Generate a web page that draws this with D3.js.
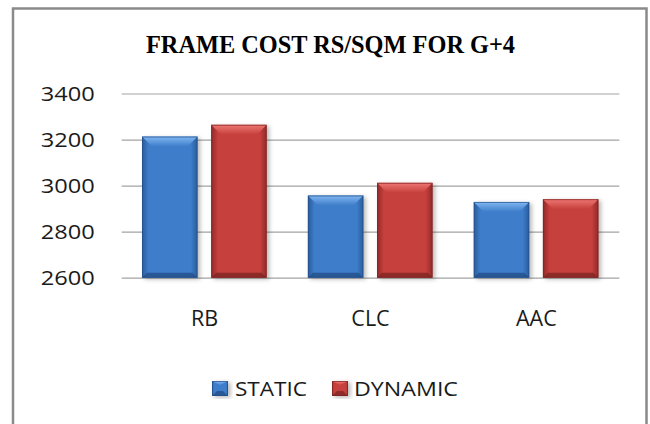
<!DOCTYPE html>
<html>
<head>
<meta charset="utf-8">
<script src="https://cdn.jsdelivr.net/npm/d3@7"></script>
<style>
  html, body { margin: 0; padding: 0; background: #fff; }
  svg { display: block; }
</style>
</head>
<body>
<svg id="chart" width="650" height="424"></svg>
<script>
// Frame cost per square metre for a G+4 building, by masonry type
const categories = ["RB", "CLC", "AAC"];
const seriesNames = ["STATIC", "DYNAMIC"];
const staticCost = [3213, 2957, 2929];
const dynamicCost = [3264, 3012, 2941];
const yTicks = [2600, 2800, 3000, 3200, 3400];
const titleText = "FRAME COST RS/SQM FOR G+4";

const seriesValues = [staticCost, dynamicCost];
const palette = {
  STATIC:  { mid: "#3e7dca", edge: "#2a5b9c", top: "#82b8f2", bottom: "#244f88" },
  DYNAMIC: { mid: "#c63f3c", edge: "#8f2a29", top: "#ee7773", bottom: "#7e2524" }
};
const labelFont = "'Open Sans', 'DejaVu Sans', sans-serif";

const svg = d3.select("#chart");
const defs = svg.append("defs");

// Horizontal shading + bevel gradients per series
seriesNames.forEach(name => {
  const c = palette[name];
  const g = defs.append("linearGradient").attr("id", "body-" + name)
    .attr("x1", "0").attr("x2", "1").attr("y1", "0").attr("y2", "0");
  g.append("stop").attr("offset", "0").attr("stop-color", c.edge);
  g.append("stop").attr("offset", "0.12").attr("stop-color", c.mid);
  g.append("stop").attr("offset", "0.88").attr("stop-color", c.mid);
  g.append("stop").attr("offset", "1").attr("stop-color", c.edge);
  const t = defs.append("linearGradient").attr("id", "top-" + name)
    .attr("x1", "0").attr("x2", "0").attr("y1", "0").attr("y2", "1");
  t.append("stop").attr("offset", "0").attr("stop-color", c.top);
  t.append("stop").attr("offset", "1").attr("stop-color", c.mid);
});
const shadow = defs.append("filter").attr("id", "shadow")
  .attr("x", "-20%").attr("y", "-10%").attr("width", "150%").attr("height", "130%");
shadow.append("feDropShadow").attr("dx", 2.5).attr("dy", 1.5)
  .attr("stdDeviation", 2).attr("flood-color", "#000").attr("flood-opacity", 0.28);

// Outer chart frame
svg.append("rect")
  .attr("x", 13).attr("y", 8.5).attr("width", 633.5).attr("height", 430)
  .attr("fill", "#fff").attr("stroke", "#8a8a8a").attr("stroke-width", 2.5);

// Title
svg.append("text")
  .attr("x", 330.5).attr("y", 53)
  .attr("text-anchor", "middle")
  .attr("font-family", "'Liberation Serif', 'DejaVu Serif', serif")
  .attr("font-weight", "bold")
  .attr("font-size", 25)
  .attr("textLength", 369).attr("lengthAdjust", "spacingAndGlyphs")
  .attr("fill", "#000")
  .text(titleText);

// Scales
const y = d3.scaleLinear().domain([2600, 3400]).range([277.7, 93.5]);
const x = d3.scaleBand().domain(categories).range([121.7, 619.3]).paddingInner(0).paddingOuter(0);
const xs = d3.scaleBand().domain(seriesNames).range([20.3, 145.0]).paddingInner(0.197).paddingOuter(0);

// Gridlines and y labels
const yAxis = d3.axisLeft(y).tickValues(yTicks).tickSize(-(619.3 - 121.7)).tickPadding(27).tickFormat(d3.format("d"));
const ya = svg.append("g").attr("transform", "translate(121.7,0)").call(yAxis);
ya.select(".domain").remove();
ya.selectAll(".tick line").attr("stroke", "#a3a3a3").attr("stroke-width", 1.2);
ya.selectAll(".tick text")
  .attr("font-family", labelFont)
  .attr("font-size", 19.5).attr("fill", "#1a1a1a")
  .attr("dy", "0.36em")
  .attr("textLength", 54).attr("lengthAdjust", "spacingAndGlyphs");

// Category labels
const xAxis = d3.axisBottom(x).tickSize(0).tickPadding(33);
const xa = svg.append("g").attr("transform", "translate(0,277.7)").call(xAxis);
xa.select(".domain").remove();
xa.selectAll(".tick text")
  .attr("font-family", labelFont)
  .attr("font-size", 21.5).attr("fill", "#1a1a1a");

// Bars with bevelled tops
function drawBar(g, name, x0, w, yTop, yBot) {
  const bev = Math.min(10, (yBot - yTop) / 3);
  const sb = 5; // side/bottom bevel width
  g.append("rect").attr("x", x0).attr("y", yTop).attr("width", w).attr("height", yBot - yTop)
    .attr("fill", "url(#body-" + name + ")").attr("filter", "url(#shadow)");
  g.append("path")
    .attr("d", `M${x0},${yTop} L${x0 + w},${yTop} L${x0 + w - sb * 2},${yTop + bev} L${x0 + sb * 2},${yTop + bev} Z`)
    .attr("fill", "url(#top-" + name + ")");
  g.append("path")
    .attr("d", `M${x0},${yBot} L${x0 + w},${yBot} L${x0 + w - sb},${yBot - sb} L${x0 + sb},${yBot - sb} Z`)
    .attr("fill", palette[name].bottom).attr("opacity", 0.8);
  g.append("rect").attr("x", x0 + 0.5).attr("y", yTop + 0.5).attr("width", w - 1).attr("height", yBot - yTop - 1)
    .attr("fill", "none").attr("stroke", palette[name].bottom).attr("stroke-width", 1).attr("opacity", 0.7);
}

const bars = svg.append("g");
categories.forEach((cat, i) => {
  seriesNames.forEach((name, s) => {
    const v = seriesValues[s][i];
    drawBar(bars, name, x(cat) + xs(name), xs.bandwidth(), y(v), y(2600));
  });
});

// Legend
const legendItems = [
  { name: "STATIC", sx: 212, tx: 235, len: 72 },
  { name: "DYNAMIC", sx: 332, tx: 354, len: 104 }
];
const lg = svg.append("g");
legendItems.forEach(it => {
  drawBar(lg, it.name, it.sx, 16, 381, 396);
  lg.append("text").attr("x", it.tx).attr("y", 395.5)
    .attr("font-family", labelFont)
    .attr("font-size", 19.5).attr("fill", "#1a1a1a")
    .attr("textLength", it.len).attr("lengthAdjust", "spacingAndGlyphs")
    .text(it.name);
});
</script>
</body>
</html>
